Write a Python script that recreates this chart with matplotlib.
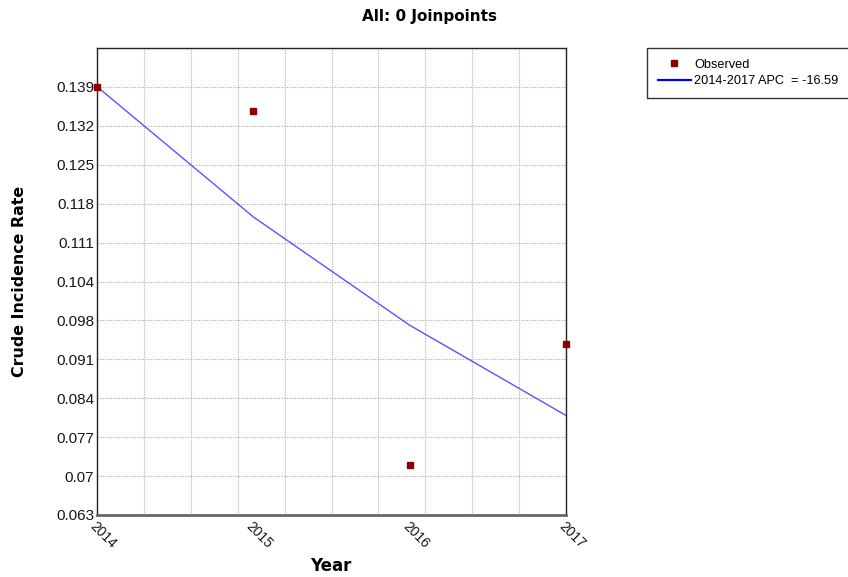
import matplotlib
matplotlib.use("Agg")
import matplotlib.pyplot as plt
import numpy as np

# Data
years_obs = [2014, 2015, 2016, 2017]
observed = [0.1390, 0.1347, 0.0719, 0.0933]
years_fit = [2014, 2015, 2016, 2017]
fitted = [0.1390, 0.1159, 0.0967, 0.0807]
y_ticks = [0.06305 + 0.0069 * i for i in range(12)]
y_tick_labels = ["0.063", "0.07", "0.077", "0.084", "0.091", "0.098",
                 "0.104", "0.111", "0.118", "0.125", "0.132", "0.139"]
x_ticks = [2014, 2015, 2016, 2017]
x_tick_labels = ["2014", "2015", "2016", "2017"]
x_grid = [2014 + 0.3 * i for i in range(11)]

plt.rcParams['font.family'] = ['Liberation Sans', 'DejaVu Sans']
fig = plt.figure(figsize=(8.48, 5.77), dpi=100)
ax = fig.add_axes([97/848, 1 - 515/577, (566 - 97)/848, (515 - 48)/577])

ax.plot(years_fit, fitted, color="#5555ff", lw=1.0, zorder=3,
        label="2014-2017 APC  = -16.59")
ax.plot(years_obs, observed, ls="none", marker="s", ms=5, color="#8b0000",
        zorder=4, label="Observed", clip_on=False)

ax.set_xlim(2014, 2017)
ax.set_ylim(0.06305, 0.06305 + 0.0069 * 12)

# grid
for xv in x_grid:
    ax.axvline(xv, color="#b4b4b4", lw=0.8, ls=(0, (1.2, 1.2)), zorder=1)
for yv in y_ticks + [0.06305 + 0.0069 * 12]:
    ax.axhline(yv, color="#b4b4b4", lw=0.8, ls=(0, (1.2, 1.2)), zorder=1)

ax.set_yticks(y_ticks)
ax.set_yticklabels(y_tick_labels, fontsize=11, color="#151520")
ax.set_xticks(x_ticks)
ax.set_xticklabels(x_tick_labels, fontsize=10, rotation=-45, ha="left", va="top",
                   rotation_mode="anchor", color="#151520")
ax.tick_params(axis="both", length=0, pad=2)
ax.tick_params(axis="x", pad=3)

for s in ["left", "right", "top"]:
    ax.spines[s].set_color("#222222")
    ax.spines[s].set_linewidth(1.0)
ax.spines["bottom"].set_color("#666666")
ax.spines["bottom"].set_linewidth(2.0)

fig.text(430/848, 1 - 17/577, "All: 0 Joinpoints", ha="center", va="center",
         fontsize=11, fontweight="bold", family="DejaVu Sans")
fig.text(20/848, 1 - 281/577, "Crude Incidence Rate", ha="center", va="center",
         rotation=90, fontsize=11.4, fontweight="bold", family="DejaVu Sans")
fig.text(331/848, 1 - 566/577, "Year", ha="center", va="center",
         fontsize=12, fontweight="bold", family="DejaVu Sans")

handles, labels = ax.get_legend_handles_labels()
leg = fig.legend([handles[1], handles[0]], [labels[1], labels[0]],
                 loc="upper left",
                 bbox_to_anchor=(647/848, 1 - 97/577, 205/848, 49/577),
                 mode="expand",
                 bbox_transform=fig.transFigure, fontsize=9.2, frameon=True,
                 fancybox=False, edgecolor="black", borderpad=0.85,
                 handlelength=2.6, handletextpad=0.25, labelspacing=0.35,
                 borderaxespad=0)
leg.get_frame().set_linewidth(1.0)
leg.legend_handles[0].set_markersize(4)
leg.legend_handles[1].set_color("#0000ee")
leg.legend_handles[1].set_linewidth(1.6)

fig.savefig("out.png", dpi=100)
